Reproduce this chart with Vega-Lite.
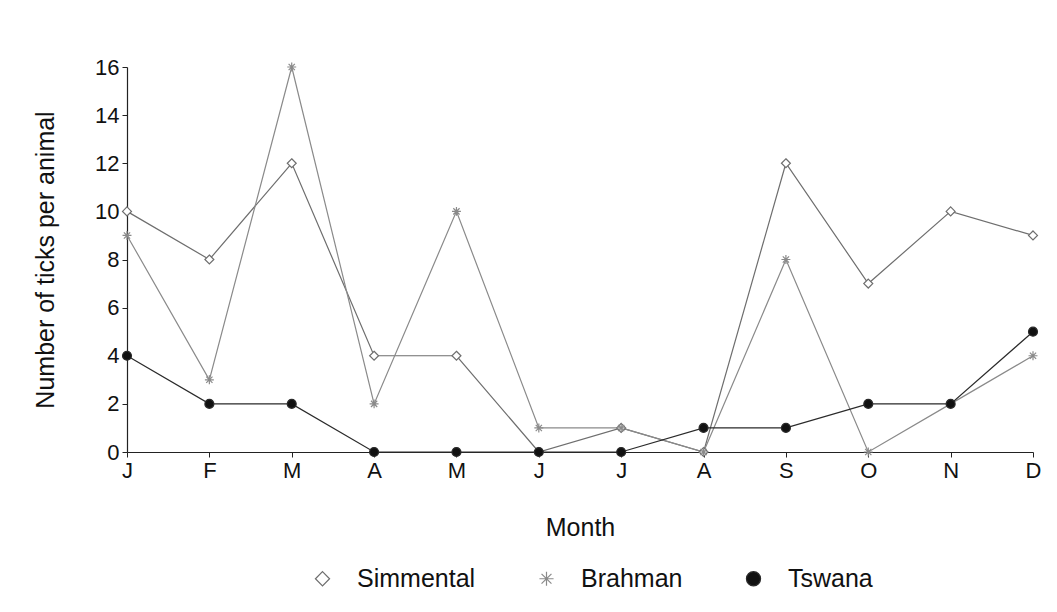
{
  "$schema": "https://vega.github.io/schema/vega-lite/v6.json",
  "width": 906,
  "height": 385,
  "autosize": {"type": "none"},
  "padding": {"left": 127, "top": 67, "right": 24, "bottom": 160},
  "background": "white",
  "config": {
    "font": "Liberation Sans",
    "view": {"stroke": null},
    "axis": {"grid": false, "domainColor": "#222", "tickColor": "#222", "labelColor": "#111", "titleColor": "#111", "labelFontSize": 22, "titleFontSize": 25, "titleFontWeight": "normal", "labelFont": "Liberation Sans", "titleFont": "Liberation Sans", "tickSize": 5, "domainWidth": 1.2, "tickWidth": 1},
    "legend": {"title": null, "orient": "none", "legendX": 183, "legendY": 499, "direction": "horizontal",
      "symbolSize": 200, "symbolStrokeWidth": 1.2, "labelFontSize": 25, "labelFont": "Liberation Sans", "labelColor": "#111",
      "labelOffset": 22, "columnPadding": 58}
  },
  "data": {
    "values": [
      {"month": "Jan", "breed": "Simmental", "ticks": 10},
      {"month": "Feb", "breed": "Simmental", "ticks": 8},
      {"month": "Mar", "breed": "Simmental", "ticks": 12},
      {"month": "Apr", "breed": "Simmental", "ticks": 4},
      {"month": "May", "breed": "Simmental", "ticks": 4},
      {"month": "Jun", "breed": "Simmental", "ticks": 0},
      {"month": "Jul", "breed": "Simmental", "ticks": 1},
      {"month": "Aug", "breed": "Simmental", "ticks": 0},
      {"month": "Sep", "breed": "Simmental", "ticks": 12},
      {"month": "Oct", "breed": "Simmental", "ticks": 7},
      {"month": "Nov", "breed": "Simmental", "ticks": 10},
      {"month": "Dec", "breed": "Simmental", "ticks": 9},
      {"month": "Jan", "breed": "Brahman", "ticks": 9},
      {"month": "Feb", "breed": "Brahman", "ticks": 3},
      {"month": "Mar", "breed": "Brahman", "ticks": 16},
      {"month": "Apr", "breed": "Brahman", "ticks": 2},
      {"month": "May", "breed": "Brahman", "ticks": 10},
      {"month": "Jun", "breed": "Brahman", "ticks": 1},
      {"month": "Jul", "breed": "Brahman", "ticks": 1},
      {"month": "Aug", "breed": "Brahman", "ticks": 0},
      {"month": "Sep", "breed": "Brahman", "ticks": 8},
      {"month": "Oct", "breed": "Brahman", "ticks": 0},
      {"month": "Nov", "breed": "Brahman", "ticks": 2},
      {"month": "Dec", "breed": "Brahman", "ticks": 4},
      {"month": "Jan", "breed": "Tswana", "ticks": 4},
      {"month": "Feb", "breed": "Tswana", "ticks": 2},
      {"month": "Mar", "breed": "Tswana", "ticks": 2},
      {"month": "Apr", "breed": "Tswana", "ticks": 0},
      {"month": "May", "breed": "Tswana", "ticks": 0},
      {"month": "Jun", "breed": "Tswana", "ticks": 0},
      {"month": "Jul", "breed": "Tswana", "ticks": 0},
      {"month": "Aug", "breed": "Tswana", "ticks": 1},
      {"month": "Sep", "breed": "Tswana", "ticks": 1},
      {"month": "Oct", "breed": "Tswana", "ticks": 2},
      {"month": "Nov", "breed": "Tswana", "ticks": 2},
      {"month": "Dec", "breed": "Tswana", "ticks": 5}
    ]
  },
  "encoding": {
    "x": {
      "field": "month", "type": "ordinal",
      "sort": ["Jan","Feb","Mar","Apr","May","Jun","Jul","Aug","Sep","Oct","Nov","Dec"],
      "scale": {"type": "point", "padding": 0},
      "axis": {"title": "Month", "labelAngle": 0, "labelExpr": "substring(datum.value, 0, 1)", "labelPadding": 3, "titlePadding": 34}
    },
    "y": {
      "field": "ticks", "type": "quantitative",
      "scale": {"domain": [0, 16], "nice": false},
      "axis": {"title": "Number of ticks per animal", "values": [0,2,4,6,8,10,12,14,16], "labelPadding": 3, "titlePadding": 36}
    },
    "color": {
      "field": "breed", "type": "nominal", "title": null,
      "scale": {"domain": ["Simmental","Brahman","Tswana"], "range": ["#6e6e6e","#8a8a8a","#2a2a2a"]}
    }
  },
  "layer": [
    {
      "mark": {"type": "line", "strokeWidth": 1.2}
    },
    {
      "mark": {"type": "point", "strokeWidth": 1.2, "opacity": 1},
      "encoding": {
        "shape": {
          "field": "breed", "type": "nominal", "title": null,
          "scale": {"domain": ["Simmental","Brahman","Tswana"], "range": ["M0,-1L1,0L0,1L-1,0Z", "M-1,0L1,0M0,-1L0,1M-0.7,-0.7L0.7,0.7M-0.7,0.7L0.7,-0.7", "circle"]}
        },
        "size": {"value": 80},
        "fill": {"field": "breed", "type": "nominal", "title": null, "scale": {"domain": ["Simmental","Brahman","Tswana"], "range": ["white","transparent","#111"]}}
      }
    }
  ]
}
